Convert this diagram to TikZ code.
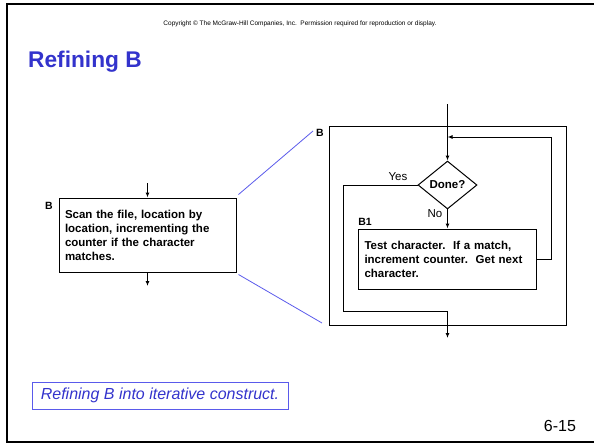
\documentclass[tikz,border=0pt]{standalone}
\usepackage{fontspec}
\setmainfont{Liberation Sans}
\usetikzlibrary{shapes.geometric,arrows.meta}
\definecolor{titleblue}{RGB}{51,51,204}
\definecolor{zoomblue}{RGB}{90,90,235}

\begin{document}
\begin{tikzpicture}[x=1pt,y=-1pt,
    block/.style={draw, line width=1pt, inner sep=6pt, align=left,
      font=\bfseries\fontsize{11.5}{14}\selectfont},
    tag/.style={inner sep=0pt, font=\bfseries\fontsize{10.5}{12}\selectfont},
    branch/.style={inner sep=0pt, font=\fontsize{11.5}{13}\selectfont},
    flow/.style={line width=1pt, -{Latex[length=5pt,width=4pt]}},
    zoomline/.style={draw=zoomblue, line width=0.8pt}]
  \useasboundingbox (0,0) rectangle (594,445);
  \clip (0,0) rectangle (594,445);

  % Slide frame and heading
  \draw[line width=2.5pt] (610,4) -- (7,4) -- (7,442) -- (610,442);
  \node[font=\fontsize{6.5}{7.5}\selectfont] (copy) at (300,24) {Copyright © The McGraw-Hill Companies, Inc.\ \ Permission required for reproduction or display.};
  \node[anchor=base west, inner sep=0pt, text=titleblue, font=\bfseries\fontsize{22.7}{27}\selectfont] (title) at (28,67.5) {Refining B};

  % Block B before refinement
  \node[block, text width=165pt, minimum height=74pt] (scan) at (147.5,235) {Scan the file, location by\\ location, incrementing the\\ counter if the character\\ matches.};
  \node[tag] (scanlbl) at (49,206) {B};
  \coordinate (scanin) at (147.5,183);
  \coordinate (scanout) at (147.5,286);
  \draw[flow] (scanin) -- (scan);
  \draw[flow] (scan) -- (scanout);

  % Block B refined into a loop
  \node[draw, line width=1pt, minimum width=237pt, minimum height=199pt, inner sep=0pt] (outer) at (447.5,225.5) {};
  \node[tag] (outerlbl) at (320,133) {B};
  \node[draw, diamond, line width=1pt, inner sep=1pt, minimum width=59pt, minimum height=44pt, font=\bfseries\fontsize{11.5}{13}\selectfont] (done) at (447.5,185) {Done?};
  \node[block, text width=166pt, minimum height=60pt] (test) at (447.5,259) {Test character.\ \ If a match,\\ increment counter.\ \ Get next\\ character.};
  \node[tag] (testlbl) at (365,222) {B1};
  \coordinate (entry) at (447.5,104);
  \coordinate (back) at (447.5,137);
  \coordinate (join) at (447.5,311);
  \coordinate (exit) at (447.5,338);
  \draw[flow] (entry) -- (done);
  \draw[flow] (done) -- (test);
  \node[branch] (no) at (435,214) {No};
  \draw[flow] (test.east) -- ++(14,0) |- (back);
  \draw[flow] (done.west) -- ++(-74,0) |- (join) -- (exit);
  \node[branch] (yes) at (398,177) {Yes};

  % Zoom lines
  \coordinate (zt) at (313,131);
  \coordinate (zb) at (322,323);
  \draw[zoomline] ([shift={(2,-3)}]scan.north east) -- (zt);
  \draw[zoomline] ([shift={(2,2)}]scan.south east) -- (zb);

  % Caption and page number
  \node[draw=zoomblue, line width=0.8pt, text=titleblue, minimum width=256pt, minimum height=27pt, font=\itshape\fontsize{16}{19}\selectfont] (caption) at (160,395.5) {Refining B into iterative construct.};
  \node[font=\fontsize{16}{19}\selectfont] (page) at (560,426) {6-15};
\end{tikzpicture}
\end{document}
